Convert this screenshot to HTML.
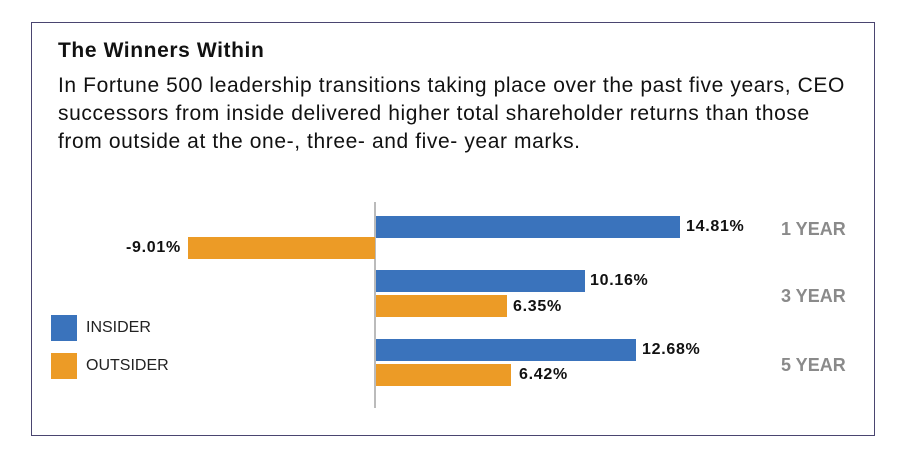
<!DOCTYPE html>
<html><head><meta charset="utf-8"><style>
body{margin:0;background:#fff;width:908px;height:454px;position:relative;font-family:"Liberation Sans",sans-serif;overflow:hidden}
.box{position:absolute;left:31px;top:22px;width:842px;height:412px;border:1.5px solid #4a4570}
.t{position:absolute;white-space:nowrap}
.b{position:absolute;height:22px}
.bl{background:#3a73bc}.or{background:#ec9b26}
.v{position:absolute;font-weight:bold;font-size:16px;letter-spacing:0.7px;color:#111;white-space:nowrap}
.y{position:absolute;font-weight:bold;font-size:18px;color:#8a8a8a;left:781px}
</style></head><body>
<div class="box"></div>
<div class="t" style="left:58px;top:39px;font-size:21px;letter-spacing:0.6px;font-weight:bold;color:#111">The Winners Within</div>
<div class="t" style="left:58px;top:72px;font-size:21px;letter-spacing:0.6px;line-height:28px;color:#111">In Fortune 500 leadership transitions taking place over the past five years, CEO<br>successors from inside delivered higher total shareholder returns than those<br>from outside at the one-, three- and five- year marks.</div>
<div style="position:absolute;left:374px;top:202px;width:1.5px;height:206px;background:#bbb"></div>
<div class="b bl" style="left:376px;top:216px;width:304px"></div>
<div class="b or" style="left:188px;top:237px;width:187px"></div>
<div class="b bl" style="left:376px;top:270px;width:209px"></div>
<div class="b or" style="left:376px;top:295px;width:131px"></div>
<div class="b bl" style="left:376px;top:339px;width:260px"></div>
<div class="b or" style="left:376px;top:364px;width:135px"></div>
<div class="v" style="left:686px;top:218px">14.81%</div>
<div class="v" style="left:126px;top:239px">-9.01%</div>
<div class="v" style="left:590px;top:272px">10.16%</div>
<div class="v" style="left:513px;top:298px">6.35%</div>
<div class="v" style="left:642px;top:341px">12.68%</div>
<div class="v" style="left:519px;top:366px">6.42%</div>
<div class="y" style="top:219px">1 YEAR</div>
<div class="y" style="top:286px">3 YEAR</div>
<div class="y" style="top:355px">5 YEAR</div>
<div class="b bl" style="left:51px;top:315px;width:26px;height:26px"></div>
<div class="b or" style="left:51px;top:353px;width:26px;height:26px"></div>
<div class="t" style="left:86px;top:319px;font-size:16px;color:#222">INSIDER</div>
<div class="t" style="left:86px;top:357px;font-size:16px;color:#222">OUTSIDER</div>
</body></html>
